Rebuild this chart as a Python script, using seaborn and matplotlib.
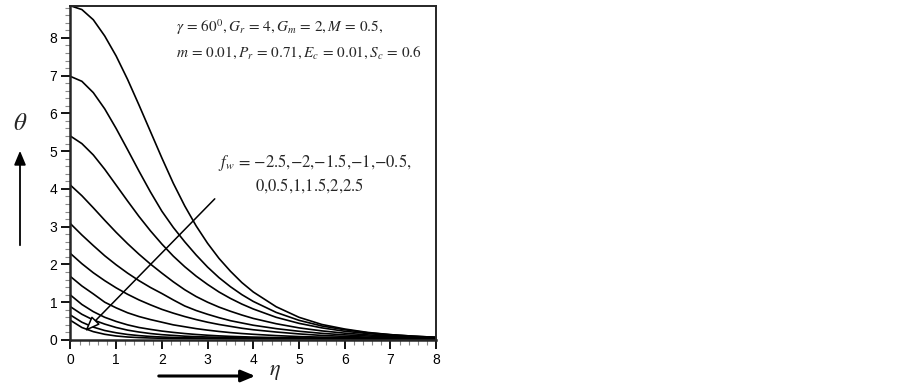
import numpy as np
import pandas as pd
import seaborn as sns
import matplotlib.pyplot as plt
from matplotlib.patches import FancyArrowPatch
from matplotlib.ticker import MultipleLocator

# =========================
# DATA
# =========================
eta = [0, 0.25, 0.5, 0.75, 1.0, 1.25, 1.5, 1.75, 2.0, 2.25, 2.5, 2.75, 3.0, 3.25, 3.5, 3.75, 4.0,
       4.5, 5.0, 5.5, 6.0, 6.5, 7.0, 7.5, 8.0]

fw_values = [-2.5, -2, -1.5, -1, -0.5, 0, 0.5, 1, 1.5, 2, 2.5]

theta_m25 = [8.85, 8.75, 8.48, 8.05, 7.52, 6.90, 6.22, 5.52, 4.82, 4.15, 3.55, 3.02, 2.56, 2.16, 1.82, 1.52, 1.27,
             0.88, 0.60, 0.41, 0.29, 0.20, 0.14, 0.10, 0.07]
theta_m20 = [6.98, 6.85, 6.55, 6.12, 5.60, 5.04, 4.47, 3.92, 3.41, 2.98, 2.60, 2.25, 1.93, 1.65, 1.41, 1.20, 1.02,
             0.73, 0.52, 0.37, 0.27, 0.19, 0.14, 0.10, 0.07]
theta_m15 = [5.40, 5.20, 4.90, 4.52, 4.10, 3.68, 3.27, 2.89, 2.54, 2.22, 1.94, 1.69, 1.47, 1.27, 1.10, 0.95, 0.82,
             0.60, 0.44, 0.32, 0.23, 0.17, 0.12, 0.09, 0.065]
theta_m10 = [4.10, 3.82, 3.50, 3.17, 2.85, 2.55, 2.27, 2.01, 1.77, 1.54, 1.33, 1.15, 1.00, 0.87, 0.76, 0.66, 0.57,
             0.43, 0.32, 0.24, 0.18, 0.135, 0.10, 0.075, 0.055]
theta_m05 = [3.08, 2.78, 2.50, 2.23, 1.99, 1.77, 1.57, 1.39, 1.23, 1.06, 0.90, 0.78, 0.68, 0.59, 0.51, 0.45, 0.39,
             0.30, 0.23, 0.175, 0.135, 0.105, 0.08, 0.062, 0.05]
theta_p00 = [2.29, 2.02, 1.78, 1.57, 1.38, 1.21, 1.06, 0.93, 0.81, 0.71, 0.62, 0.54, 0.47, 0.41, 0.36, 0.31, 0.27,
             0.21, 0.16, 0.12, 0.095, 0.075, 0.06, 0.05, 0.045]
theta_p05 = [1.68, 1.43, 1.22, 1.00, 0.85, 0.72, 0.62, 0.54, 0.47, 0.40, 0.35, 0.30, 0.26, 0.225, 0.195, 0.17, 0.15,
             0.115, 0.09, 0.075, 0.065, 0.055, 0.05, 0.045, 0.04]
theta_p10 = [1.19, 0.94, 0.75, 0.60, 0.49, 0.40, 0.33, 0.28, 0.235, 0.20, 0.17, 0.145, 0.125, 0.108, 0.095, 0.085, 0.076,
             0.063, 0.054, 0.049, 0.045, 0.041, 0.039, 0.036, 0.034]
theta_p15 = [0.88, 0.68, 0.53, 0.42, 0.33, 0.26, 0.21, 0.17, 0.14, 0.12, 0.10, 0.088, 0.078, 0.070, 0.064, 0.059, 0.055,
             0.050, 0.045, 0.042, 0.040, 0.038, 0.036, 0.034, 0.032]
theta_p20 = [0.66, 0.47, 0.34, 0.25, 0.19, 0.145, 0.115, 0.093, 0.078, 0.067, 0.059, 0.053, 0.049, 0.046, 0.043, 0.041, 0.040,
             0.038, 0.036, 0.035, 0.034, 0.033, 0.032, 0.031, 0.030]
theta_p25 = [0.52, 0.33, 0.22, 0.15, 0.105, 0.078, 0.062, 0.052, 0.045, 0.041, 0.038, 0.036, 0.035, 0.034, 0.033, 0.033, 0.032,
             0.031, 0.031, 0.030, 0.030, 0.030, 0.030, 0.030, 0.030]

profiles = [theta_m25, theta_m20, theta_m15, theta_m10, theta_m05, theta_p00,
            theta_p05, theta_p10, theta_p15, theta_p20, theta_p25]

# =========================
# LONG TABLE FOR SEABORN
# =========================
rows = []
for fw, th in zip(fw_values, profiles):
    for e, t in zip(eta, th):
        rows.append({"eta": e, "theta": t, "fw": str(fw)})
df = pd.DataFrame(rows)

# =========================
# PLOT
# =========================
sns.set_style("ticks")
plt.rcParams["font.family"] = ["Liberation Sans", "DejaVu Sans"]
plt.rcParams["mathtext.fontset"] = "stix"

fig = plt.figure(figsize=(9.03, 3.85), dpi=100)
ax = fig.add_axes([0.078, 0.117, 0.405, 0.868])

sns.lineplot(data=df, x="eta", y="theta", hue="fw",
             palette=["black"] * len(fw_values), legend=False,
             linewidth=1.2, ax=ax)

ax.set_xlim(0, 8)
ax.set_ylim(0, 8.85)
ax.xaxis.set_major_locator(MultipleLocator(1))
ax.xaxis.set_minor_locator(MultipleLocator(0.2))
ax.yaxis.set_major_locator(MultipleLocator(1))
ax.yaxis.set_minor_locator(MultipleLocator(0.2))
ax.tick_params(which="major", direction="out", length=6.5, width=1.3,
               labelsize=10, pad=3, colors="black")
ax.tick_params(which="minor", direction="out", length=3.5, width=0.8,
               color="#888888")
ax.set_xlabel("")
ax.set_ylabel("")
for side in ["left", "bottom"]:
    ax.spines[side].set_linewidth(1.8)
for side in ["top", "right"]:
    ax.spines[side].set_linewidth(1.4)

# parameter text
ax.text(2.31, 8.28, r"$\gamma\,=\,60^0, G_r\,=\,4, G_m\,=\,2, M\,=\,0.5,$",
        fontsize=11, va="center", ha="left")
ax.text(2.31, 7.59, r"$m\,=\,0.01, P_r\,=\,0.71, E_c\,=\,0.01, S_c\,=\,0.6$",
        fontsize=11, va="center", ha="left")
ax.text(3.23, 4.71, r"$f_w\,=\,{-}2.5{,}{-}2{,}{-}1.5{,}{-}1{,}{-}0.5,$",
        fontsize=12, va="center", ha="left")
ax.text(4.04, 4.10, r"$0{,}0.5{,}1{,}1.5{,}2{,}2.5$",
        fontsize=12, va="center", ha="left")

# direction arrow across the curves
ax.annotate("", xy=(0.28, 0.18), xytext=(3.2, 3.79),
            arrowprops=dict(arrowstyle="-|>,head_length=0.9,head_width=0.35",
                            fc="white", ec="black", lw=1.1))

# axis labels with arrows (figure coords)
fig.text(20 / 903, 1 - 123 / 385, r"$\theta$", fontsize=18, ha="center", va="center")
fig.patches.append(FancyArrowPatch(
    (20 / 903, 1 - 248 / 385), (20 / 903, 1 - 148 / 385),
    transform=fig.transFigure, arrowstyle="-|>,head_length=0.6,head_width=0.25",
    color="black", lw=1.3, mutation_scale=14))
fig.text(275 / 903, 1 - 371 / 385, r"$\eta$", fontsize=16, ha="center", va="center")
fig.patches.append(FancyArrowPatch(
    (156 / 903, 1 - 376 / 385), (258 / 903, 1 - 376 / 385),
    transform=fig.transFigure, arrowstyle="-|>,head_length=0.6,head_width=0.25",
    color="black", lw=2.2, mutation_scale=14))

fig.savefig("out.png", dpi=100)
